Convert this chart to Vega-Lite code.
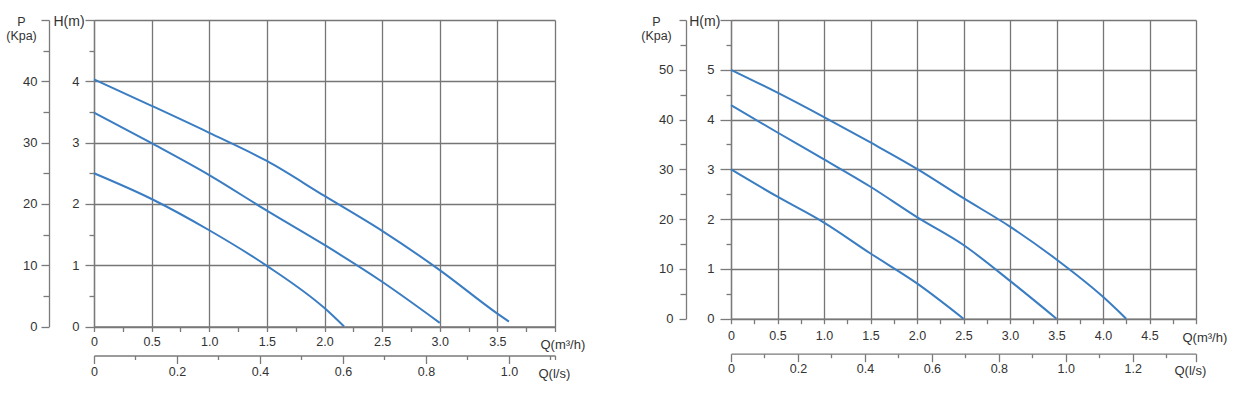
{
  "$schema": "https://vega.github.io/schema/vega-lite/v6.json",
  "background": "white",
  "padding": {"left": 5, "top": 14, "right": 5, "bottom": 5},
  "bounds": "flush",
  "spacing": 176,
  "config": {
    "view": {"stroke": null},
    "font": "Liberation Sans",
    "axis": {
      "labelFont": "Liberation Sans",
      "titleFont": "Liberation Sans",
      "labelColor": "#333333",
      "titleColor": "#333333",
      "labelFontSize": 13,
      "titleFontSize": 13,
      "titleFontWeight": "normal",
      "domainColor": "#7a7a7a",
      "domainWidth": 1.3,
      "tickColor": "#7a7a7a",
      "tickWidth": 1.3,
      "gridColor": "#767676",
      "gridWidth": 1.3,
      "labelOverlap": false,
      "labelFlush": false,
      "labelBound": false
    }
  },
  "hconcat": [
    {
      "width": 461,
      "height": 306.5,
      "layer": [
        {
          "data": {"values": [
            {"curve": "A", "Q": 0, "H": 4.03}, {"curve": "A", "Q": 0.5, "H": 3.6}, {"curve": "A", "Q": 1.0, "H": 3.16}, {"curve": "A", "Q": 1.5, "H": 2.7}, {"curve": "A", "Q": 2.0, "H": 2.13}, {"curve": "A", "Q": 2.5, "H": 1.56}, {"curve": "A", "Q": 3.0, "H": 0.92}, {"curve": "A", "Q": 3.5, "H": 0.21}, {"curve": "A", "Q": 3.6, "H": 0.08},
            {"curve": "B", "Q": 0, "H": 3.49}, {"curve": "B", "Q": 0.5, "H": 2.99}, {"curve": "B", "Q": 1.0, "H": 2.47}, {"curve": "B", "Q": 1.5, "H": 1.89}, {"curve": "B", "Q": 2.0, "H": 1.33}, {"curve": "B", "Q": 2.5, "H": 0.73}, {"curve": "B", "Q": 3.0, "H": 0.06},
            {"curve": "C", "Q": 0, "H": 2.5}, {"curve": "C", "Q": 0.5, "H": 2.08}, {"curve": "C", "Q": 1.0, "H": 1.57}, {"curve": "C", "Q": 1.5, "H": 0.99}, {"curve": "C", "Q": 2.0, "H": 0.3}, {"curve": "C", "Q": 2.17, "H": 0.0}
          ]},
          "mark": {"type": "line", "color": "#3a7dc2", "strokeWidth": 2, "interpolate": "monotone"},
          "encoding": {
            "x": {"field": "Q", "type": "quantitative", "scale": {"domain": [0, 4], "nice": false},
              "axis": {
                "orient": "bottom",
                "values": [0, 0.25, 0.5, 0.75, 1, 1.25, 1.5, 1.75, 2, 2.25, 2.5, 2.75, 3, 3.25, 3.5, 3.75, 4],
                "labelExpr": "datum.value == 0 ? '0' : ((datum.value * 2) % 1 == 0 && datum.value < 4 ? format(datum.value, '.1f') : '')",
                "labelFontSize": 12.5,
                "tickSize": 5,
                "labelPadding": 4,
                "grid": true,
                "gridOpacity": {"condition": {"test": "(datum.value * 2) % 1 != 0", "value": 0}, "value": 1},
                "title": "Q(m³/h)", "titleAngle": 0, "titleAlign": "left", "titleBaseline": "alphabetic",
                "titleX": 446, "titleY": 22
              }},
            "y": {"field": "H", "type": "quantitative", "scale": {"domain": [0, 5], "nice": false},
              "axis": {
                "orient": "left",
                "values": [0, 0.5, 1, 1.5, 2, 2.5, 3, 3.5, 4, 4.5, 5],
                "labelExpr": "datum.value % 1 == 0 && datum.value < 5 ? format(datum.value, 'd') : ''",
                "tickSize": {"condition": {"test": "datum.value % 1 == 0", "value": 9}, "value": 5},
                "labelPadding": 6,
                "grid": true,
                "gridOpacity": {"condition": {"test": "datum.value % 1 != 0", "value": 0}, "value": 1},
                "title": "H(m)", "titleAngle": 0, "titleAlign": "center", "titleBaseline": "alphabetic",
                "titleFontSize": 14,
                "titleX": -25.5, "titleY": 5
              }},
            "detail": {"field": "curve", "type": "nominal"}
          }
        },
        {
          "data": {"values": [{"Qls": 0, "P": 0}, {"Qls": 1.1111, "P": 50}]},
          "mark": {"type": "point", "opacity": 0},
          "encoding": {
            "x": {"field": "Qls", "type": "quantitative", "scale": {"domain": [0, 1.1111], "nice": false},
              "axis": {
                "orient": "bottom", "offset": 29,
                "values": [0, 0.1, 0.2, 0.3, 0.4, 0.5, 0.6, 0.7, 0.8, 0.9, 1.0, 1.1, 1.1111],
                "labelExpr": "datum.value == 0 ? '0' : (round(datum.value * 10) % 2 == 0 && datum.value < 1.05 ? format(datum.value, '.1f') : '')",
                "labelFontSize": 12.5,
                "tickSize": {"condition": {"test": "round(datum.value * 10) % 2 == 0 && datum.value < 1.05", "value": 8}, "value": 4},
                "labelPadding": 2,
                "grid": false,
                "title": "Q(l/s)", "titleAngle": 0, "titleAlign": "left", "titleBaseline": "alphabetic",
                "titleX": 444, "titleY": 22
              }},
            "y": {"field": "P", "type": "quantitative", "scale": {"domain": [0, 50], "nice": false},
              "axis": {
                "orient": "left", "offset": 45,
                "values": [0, 5, 10, 15, 20, 25, 30, 35, 40, 45, 50],
                "labelExpr": "datum.value % 10 == 0 && datum.value < 50 ? format(datum.value, 'd') : ''",
                "tickSize": {"condition": {"test": "datum.value % 10 == 0", "value": 8}, "value": 6},
                "labelPadding": 4,
                "grid": false,
                "title": ["P", "(Kpa)"], "titleAngle": 0, "titleAlign": "center", "titleBaseline": "alphabetic",
                "titleFontSize": 12.5, "titleLineHeight": 14,
                "titleX": -28, "titleY": 5
              }}
          }
        }
      ],
      "resolve": {"scale": {"x": "independent", "y": "independent"}, "axis": {"x": "independent", "y": "independent"}}
    },
    {
      "width": 465,
      "height": 298.7,
      "layer": [
        {
          "data": {"values": [
            {"curve": "A", "Q": 0, "H": 5.0}, {"curve": "A", "Q": 0.5, "H": 4.54}, {"curve": "A", "Q": 1.0, "H": 4.05}, {"curve": "A", "Q": 1.5, "H": 3.54}, {"curve": "A", "Q": 2.0, "H": 3.01}, {"curve": "A", "Q": 2.5, "H": 2.42}, {"curve": "A", "Q": 3.0, "H": 1.85}, {"curve": "A", "Q": 3.5, "H": 1.19}, {"curve": "A", "Q": 4.0, "H": 0.44}, {"curve": "A", "Q": 4.25, "H": 0.0},
            {"curve": "B", "Q": 0, "H": 4.29}, {"curve": "B", "Q": 0.5, "H": 3.74}, {"curve": "B", "Q": 1.0, "H": 3.2}, {"curve": "B", "Q": 1.5, "H": 2.65}, {"curve": "B", "Q": 2.0, "H": 2.04}, {"curve": "B", "Q": 2.5, "H": 1.48}, {"curve": "B", "Q": 3.0, "H": 0.76}, {"curve": "B", "Q": 3.5, "H": 0.0},
            {"curve": "C", "Q": 0, "H": 3.0}, {"curve": "C", "Q": 0.5, "H": 2.45}, {"curve": "C", "Q": 1.0, "H": 1.93}, {"curve": "C", "Q": 1.5, "H": 1.31}, {"curve": "C", "Q": 2.0, "H": 0.71}, {"curve": "C", "Q": 2.5, "H": 0.0}
          ]},
          "mark": {"type": "line", "color": "#3a7dc2", "strokeWidth": 2, "interpolate": "monotone"},
          "encoding": {
            "x": {"field": "Q", "type": "quantitative", "scale": {"domain": [0, 5], "nice": false},
              "axis": {
                "orient": "bottom",
                "values": [0, 0.25, 0.5, 0.75, 1, 1.25, 1.5, 1.75, 2, 2.25, 2.5, 2.75, 3, 3.25, 3.5, 3.75, 4, 4.25, 4.5, 4.75, 5],
                "labelExpr": "datum.value == 0 ? '0' : ((datum.value * 2) % 1 == 0 && datum.value < 5 ? format(datum.value, '.1f') : '')",
                "labelFontSize": 12.5,
                "tickSize": 5,
                "labelPadding": 6,
                "grid": true,
                "gridOpacity": {"condition": {"test": "(datum.value * 2) % 1 != 0", "value": 0}, "value": 1},
                "title": "Q(m³/h)", "titleAngle": 0, "titleAlign": "left", "titleBaseline": "alphabetic",
                "titleX": 451, "titleY": 23
              }},
            "y": {"field": "H", "type": "quantitative", "scale": {"domain": [0, 6], "nice": false},
              "axis": {
                "orient": "left",
                "values": [0, 0.5, 1, 1.5, 2, 2.5, 3, 3.5, 4, 4.5, 5, 5.5, 6],
                "labelExpr": "datum.value % 1 == 0 && datum.value < 6 ? format(datum.value, 'd') : ''",
                "tickSize": {"condition": {"test": "datum.value % 1 == 0", "value": 11}, "value": 5},
                "labelPadding": 6,
                "grid": true,
                "gridOpacity": {"condition": {"test": "datum.value % 1 != 0", "value": 0}, "value": 1},
                "title": "H(m)", "titleAngle": 0, "titleAlign": "center", "titleBaseline": "alphabetic",
                "titleFontSize": 14,
                "titleX": -26.7, "titleY": 5
              }},
            "detail": {"field": "curve", "type": "nominal"}
          }
        },
        {
          "data": {"values": [{"Qls": 0, "P": 0}, {"Qls": 1.3889, "P": 60}]},
          "mark": {"type": "point", "opacity": 0},
          "encoding": {
            "x": {"field": "Qls", "type": "quantitative", "scale": {"domain": [0, 1.3889], "nice": false},
              "axis": {
                "orient": "bottom", "offset": 35,
                "values": [0, 0.1, 0.2, 0.3, 0.4, 0.5, 0.6, 0.7, 0.8, 0.9, 1.0, 1.1, 1.2, 1.3, 1.3889],
                "labelExpr": "datum.value == 0 ? '0' : (round(datum.value * 10) % 2 == 0 && datum.value < 1.25 ? format(datum.value, '.1f') : '')",
                "labelFontSize": 12.5,
                "tickSize": {"condition": {"test": "round(datum.value * 10) % 2 == 0 || datum.value > 1.35", "value": 8}, "value": 4},
                "labelPadding": 1,
                "grid": false,
                "title": "Q(l/s)", "titleAngle": 0, "titleAlign": "left", "titleBaseline": "alphabetic",
                "titleX": 443, "titleY": 21
              }},
            "y": {"field": "P", "type": "quantitative", "scale": {"domain": [0, 60], "nice": false},
              "axis": {
                "orient": "left", "offset": 45,
                "values": [0, 5, 10, 15, 20, 25, 30, 35, 40, 45, 50, 55, 60],
                "labelExpr": "datum.value % 10 == 0 && datum.value < 60 ? format(datum.value, 'd') : ''",
                "tickSize": {"condition": {"test": "datum.value % 10 == 0", "value": 7}, "value": 6},
                "labelPadding": 6,
                "grid": false,
                "title": ["P", "(Kpa)"], "titleAngle": 0, "titleAlign": "center", "titleBaseline": "alphabetic",
                "titleFontSize": 12.5, "titleLineHeight": 14,
                "titleX": -30, "titleY": 5
              }}
          }
        }
      ],
      "resolve": {"scale": {"x": "independent", "y": "independent"}, "axis": {"x": "independent", "y": "independent"}}
    }
  ]
}
